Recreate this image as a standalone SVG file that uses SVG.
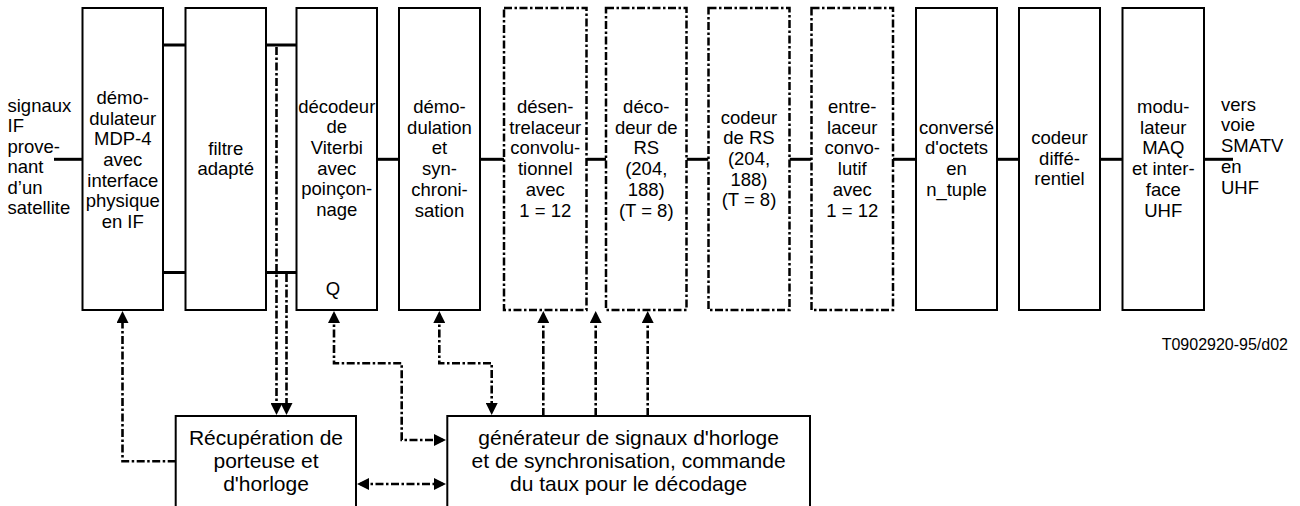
<svg xmlns="http://www.w3.org/2000/svg" width="1300" height="506" viewBox="0 0 1300 506">
<style>
  text { font-family: "Liberation Sans", Arial, sans-serif; fill: #000; }
  .t { font-size: 18.5px; text-anchor: middle; }
  .tl { font-size: 18.5px; }
  .tb { font-size: 21px; text-anchor: middle; }
  .box { fill: #fff; stroke: #000; stroke-width: 2; }
  .dbox { fill: #fff; stroke: #000; stroke-width: 2.5; stroke-dasharray: 8 2.5 2.5 2.5; }
  .wire { stroke: #000; stroke-width: 3; fill: none; }
  .ctl { stroke: #000; stroke-width: 2.6; fill: none; stroke-dasharray: 8 2.5 2.5 2.5; }
</style>
<defs>
  <marker id="ah" viewBox="0 0 12 12" refX="9" refY="6" markerWidth="12" markerHeight="12" markerUnits="userSpaceOnUse" orient="auto-start-reverse">
    <path d="M0,0 L12,6 L0,12 z" fill="#000"/>
  </marker>
</defs>
<rect width="1300" height="506" fill="#fff"/>

<g id="connectors">
  <path class="wire" d="M54,159.3 H82.5"/>
  <path class="wire" d="M163,45 H185.5 M163,272.5 H185.5"/>
  <path class="wire" d="M266,45 H296.5 M266,272.5 H296.5"/>
  <path class="wire" d="M377,159.3 H399"/>
  <path class="wire" d="M480,159.3 H504"/>
  <path class="wire" d="M586.5,159.3 H606"/>
  <path class="wire" d="M686.5,159.3 H708.5"/>
  <path class="wire" d="M789.5,159.3 H811.5"/>
  <path class="wire" d="M893,159.3 H916"/>
  <path class="wire" d="M997,159.3 H1019"/>
  <path class="wire" d="M1100,159.3 H1122.5"/>
  <path class="wire" d="M1204,159.3 H1233"/>

  <path class="ctl" d="M175.7,461.3 H122.5 V314" marker-end="url(#ah)"/>
  <path class="ctl" d="M276.5,47 V412" marker-end="url(#ah)"/>
  <path class="ctl" d="M286.5,274 V412" marker-end="url(#ah)"/>
  <path class="ctl" d="M334,314 V363.3 H401.7 V440 H443" marker-start="url(#ah)" marker-end="url(#ah)"/>
  <path class="ctl" d="M439.3,314 V363.3 H491.7 V412" marker-start="url(#ah)" marker-end="url(#ah)"/>
  <path class="ctl" d="M360,484 H443" marker-start="url(#ah)" marker-end="url(#ah)"/>
  <path class="ctl" d="M543.3,416 V314" marker-end="url(#ah)"/>
  <path class="ctl" d="M595.7,416 V314" marker-end="url(#ah)"/>
  <path class="ctl" d="M647.7,416 V314" marker-end="url(#ah)"/>
</g>

<g id="input-label">
  <text class="tl"><tspan x="7.5" y="111.5">signaux</tspan><tspan x="7.5" y="132">IF</tspan><tspan x="7.5" y="152.5">prove-</tspan><tspan x="7.5" y="173">nant</tspan><tspan x="7.5" y="193.5">d’un</tspan><tspan x="7.5" y="214">satellite</tspan></text>
</g>

<g id="n1">
  <rect class="box" x="82.5" y="8" width="80.5" height="302"/>
  <text class="t"><tspan x="122.75" y="104">démo-</tspan><tspan x="122.75" y="124.7">dulateur</tspan><tspan x="122.75" y="145.3">MDP-4</tspan><tspan x="122.75" y="166">avec</tspan><tspan x="122.75" y="186.7">interface</tspan><tspan x="122.75" y="207.3">physique</tspan><tspan x="122.75" y="228">en IF</tspan></text>
</g>

<g id="n2">
  <rect class="box" x="185.5" y="8" width="80.5" height="302"/>
  <text class="t"><tspan x="225.75" y="154.5">filtre</tspan><tspan x="225.75" y="175">adapté</tspan></text>
</g>

<g id="n3">
  <rect class="box" x="296.5" y="8" width="80.5" height="302"/>
  <text class="t"><tspan x="336.75" y="112.5">décodeur</tspan><tspan x="336.75" y="133.2">de</tspan><tspan x="336.75" y="153.9">Viterbi</tspan><tspan x="336.75" y="174.6">avec</tspan><tspan x="336.75" y="195.3">poinçon-</tspan><tspan x="336.75" y="216">nage</tspan></text>
  <text class="t" x="333" y="295">Q</text>
</g>

<g id="n4">
  <rect class="box" x="399" y="8" width="81" height="302"/>
  <text class="t"><tspan x="439.5" y="113">démo-</tspan><tspan x="439.5" y="133.7">dulation</tspan><tspan x="439.5" y="154.4">et</tspan><tspan x="439.5" y="175.1">syn-</tspan><tspan x="439.5" y="195.8">chroni-</tspan><tspan x="439.5" y="216.5">sation</tspan></text>
</g>

<g id="n5">
  <rect class="dbox" x="504" y="8" width="82.5" height="302"/>
  <text class="t"><tspan x="545.25" y="113">désen-</tspan><tspan x="545.25" y="133.7">trelaceur</tspan><tspan x="545.25" y="154.4">convolu-</tspan><tspan x="545.25" y="175.1">tionnel</tspan><tspan x="545.25" y="195.8">avec</tspan><tspan x="545.25" y="216.5">1 = 12</tspan></text>
</g>

<g id="n6">
  <rect class="dbox" x="606" y="8" width="80.5" height="302"/>
  <text class="t"><tspan x="646.25" y="113">déco-</tspan><tspan x="646.25" y="133.7">deur de</tspan><tspan x="646.25" y="154.4">RS</tspan><tspan x="646.25" y="175.1">(204,</tspan><tspan x="646.25" y="195.8">188)</tspan><tspan x="646.25" y="216.5">(T = 8)</tspan></text>
</g>

<g id="n7">
  <rect class="dbox" x="708.5" y="8" width="81" height="302"/>
  <text class="t"><tspan x="749" y="123.5">codeur</tspan><tspan x="749" y="144.2">de RS</tspan><tspan x="749" y="164.9">(204,</tspan><tspan x="749" y="185.6">188)</tspan><tspan x="749" y="206.3">(T = 8)</tspan></text>
</g>

<g id="n8">
  <rect class="dbox" x="811.5" y="8" width="81.5" height="302"/>
  <text class="t"><tspan x="852.25" y="113">entre-</tspan><tspan x="852.25" y="133.7">laceur</tspan><tspan x="852.25" y="154.4">convo-</tspan><tspan x="852.25" y="175.1">lutif</tspan><tspan x="852.25" y="195.8">avec</tspan><tspan x="852.25" y="216.5">1 = 12</tspan></text>
</g>

<g id="n9">
  <rect class="box" x="916" y="8" width="81" height="302"/>
  <text class="t"><tspan x="956.5" y="133.5">conversé</tspan><tspan x="956.5" y="154.2">d'octets</tspan><tspan x="956.5" y="174.9">en</tspan><tspan x="956.5" y="195.6">n_tuple</tspan></text>
</g>

<g id="n10">
  <rect class="box" x="1019" y="8" width="81" height="302"/>
  <text class="t"><tspan x="1059.5" y="144">codeur</tspan><tspan x="1059.5" y="164.7">diffé-</tspan><tspan x="1059.5" y="185.4">rentiel</tspan></text>
</g>

<g id="n11">
  <rect class="box" x="1122.5" y="8" width="81.5" height="302"/>
  <text class="t"><tspan x="1163.25" y="113">modu-</tspan><tspan x="1163.25" y="133.7">lateur</tspan><tspan x="1163.25" y="154.4">MAQ</tspan><tspan x="1163.25" y="175.1">et inter-</tspan><tspan x="1163.25" y="195.8">face</tspan><tspan x="1163.25" y="216.5">UHF</tspan></text>
</g>

<g id="output-label">
  <text class="tl"><tspan x="1221" y="110.5">vers</tspan><tspan x="1221" y="131.3">voie</tspan><tspan x="1221" y="152.1">SMATV</tspan><tspan x="1221" y="172.9">en</tspan><tspan x="1221" y="193.7">UHF</tspan></text>
</g>

<g id="recup">
  <rect class="box" x="175.7" y="416" width="180.3" height="100"/>
  <text class="tb"><tspan x="266" y="445">Récupération de</tspan><tspan x="266" y="468">porteuse et</tspan><tspan x="266" y="491">d'horloge</tspan></text>
</g>

<g id="generateur">
  <rect class="box" x="447.3" y="416" width="362.7" height="100"/>
  <text class="tb"><tspan x="628.6" y="445">générateur de signaux d'horloge</tspan><tspan x="628.6" y="468">et de synchronisation, commande</tspan><tspan x="628.6" y="491">du taux pour le décodage</tspan></text>
</g>

<g id="ref-label">
  <text x="1288" y="350" style="font-size:16px;text-anchor:end">T0902920-95/d02</text>
</g>
</svg>
